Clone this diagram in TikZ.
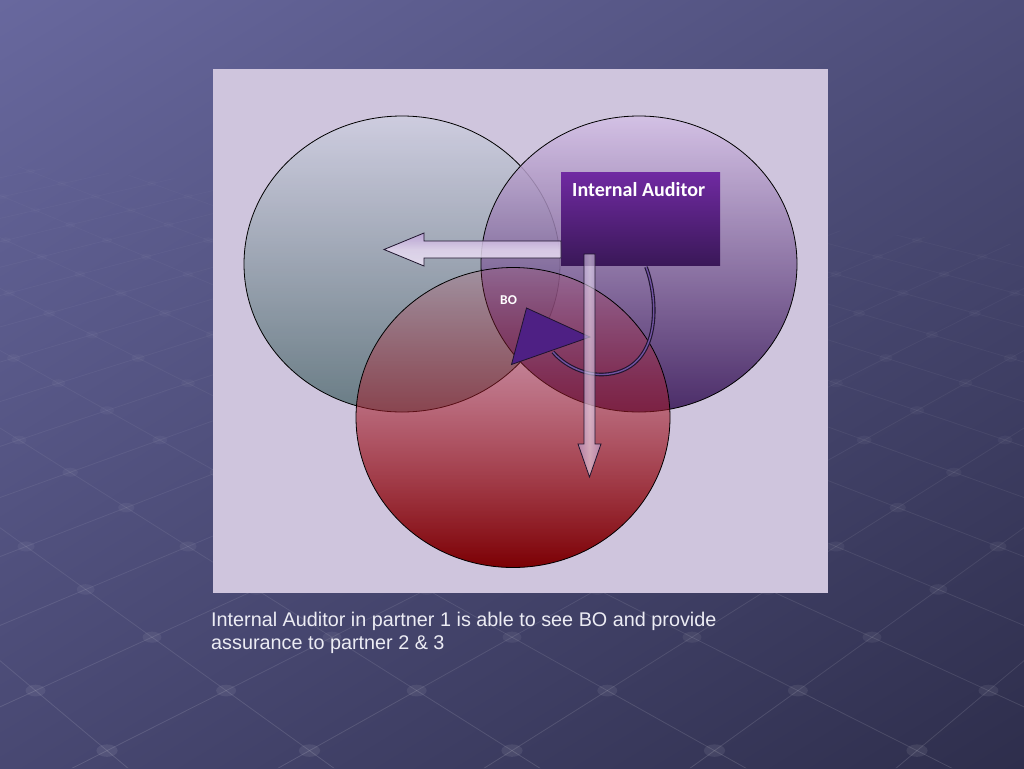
\documentclass[tikz,border=0pt]{standalone}
\usepackage{fontspec}
\usetikzlibrary{shadings,fadings}
\setmainfont{Liberation Sans}
\newfontfamily\carlito{Carlito}
\definecolor{bgUL}{RGB}{104,104,158}
\definecolor{bgUR}{RGB}{78,78,122}
\definecolor{bgLL}{RGB}{72,72,114}
\definecolor{bgLR}{RGB}{46,46,76}
\definecolor{panelc}{RGB}{207,197,221}
\definecolor{leftTop}{RGB}{206,206,224}
\definecolor{leftMid}{RGB}{172,182,200}
\definecolor{leftBot}{RGB}{88,112,118}
\definecolor{rightTop}{RGB}{212,192,230}
\definecolor{rightMid}{RGB}{145,100,172}
\definecolor{rightBot}{RGB}{52,18,84}
\definecolor{botTop}{RGB}{200,50,70}
\definecolor{botMid}{RGB}{228,58,62}
\definecolor{botBot}{RGB}{124,0,4}
\definecolor{iaTop}{RGB}{112,42,162}
\definecolor{iaBot}{RGB}{58,24,88}
\definecolor{arrowDark}{RGB}{186,160,212}
\definecolor{arrowLight}{RGB}{238,228,246}
\definecolor{triFill}{RGB}{78,32,132}
\definecolor{curveIn}{RGB}{112,82,160}
\definecolor{edge}{RGB}{30,20,45}
\definecolor{capt}{RGB}{236,236,244}
\tikzfading[name=redfade, top color=transparent!85, middle color=transparent!38, bottom color=transparent!0]
\tikzset{
  venn/.style={draw=black, line width=0.8pt, fill opacity=0.85},
  blockarrow/.style={draw=edge, line width=0.8pt, fill opacity=0.85},
}
\begin{document}
\begin{tikzpicture}[x=1pt,y=-1pt]
\useasboundingbox (0,0) rectangle (1024,768);
% background
\shade[upper left=bgUL, upper right=bgUR, lower left=bgLL, lower right=bgLR] (0,0) rectangle (1024,768);
% network texture (perspective lattice)
\begin{scope}
\clip (0,165) -- (1024,245) -- (1024,768) -- (0,768) -- cycle;
\foreach \u in {-5,...,21} {
  \foreach \v in {-5,...,21} {
    \pgfmathsetmacro{\ta}{1+0.1*(\u+\v)}
    \ifdim \ta pt > 1.3pt
      \pgfmathsetmacro{\tb}{1+0.1*(\u+\v+1)}
      \pgfmathsetmacro{\px}{512+162*(\u-\v)/\ta}
      \pgfmathsetmacro{\py}{-270+1633/\ta}
      \pgfmathsetmacro{\qx}{512+162*(\u+1-\v)/\tb}
      \pgfmathsetmacro{\qy}{-270+1633/\tb}
      \pgfmathsetmacro{\rx}{512+162*(\u-\v-1)/\tb}
      \pgfmathsetmacro{\rrx}{17/\ta}
      \pgfmathsetmacro{\rry}{10/\ta}
      \pgfmathsetmacro{\lop}{0.3/(\ta*\ta)}
      \pgfmathsetmacro{\dop}{0.2/(\ta*\ta)}
      \draw[white, opacity=\lop, line width=0.8pt] (\px,\py) -- (\qx,\qy);
      \draw[white, opacity=\lop, line width=0.8pt] (\px,\py) -- (\rx,\qy);
      \fill[white, opacity=\dop] (\px,\py) ellipse [x radius=\rrx, y radius=\rry];
    \fi
  }
}
\end{scope}
% panel
\node[fill=panelc, minimum width=615pt, minimum height=524pt, inner sep=0pt, anchor=north west] (panel) at (213,69) {};
% circles
\shadedraw[venn, top color=leftTop, middle color=leftMid, bottom color=leftBot] (402,264) ellipse [x radius=158, y radius=148];
\shadedraw[venn, top color=rightTop, middle color=rightMid, bottom color=rightBot] (639,264) ellipse [x radius=158, y radius=148];
\shade[top color=botTop, middle color=botMid, bottom color=botBot, path fading=redfade] (513,417.5) ellipse [x radius=157, y radius=150];
\draw[black, line width=0.8pt] (513,417.5) ellipse [x radius=157, y radius=150];
% internal auditor box
\node[rectangle, minimum width=159pt, minimum height=93pt, inner sep=0pt, top color=iaTop, bottom color=iaBot, anchor=north west] (ia) at (561,172) {};
\node[anchor=base west, text=white, font=\carlito\bfseries\fontsize{20}{24}\selectfont, inner sep=0pt] (iat) at (572,196.7) {Internal Auditor};
% left arrow
\shadedraw[blockarrow, top color=arrowDark, bottom color=arrowLight, middle color=arrowLight!80!arrowDark]
  (ia.west |- 0,241) -- (424,241) -- (424,233) -- (384,249.5) -- (424,266) -- (424,258) -- (ia.west |- 0,258) -- cycle;
% curved arrow tail
\draw[edge, line width=3.6pt] (646,267) .. controls (659,300) and (662,372) .. (603,374.5) .. controls (582,375) and (563,364) .. (553,352);
\draw[curveIn, line width=1.4pt] (646,267) .. controls (659,300) and (662,372) .. (603,374.5) .. controls (582,375) and (563,364) .. (553,352);
% triangle head
\filldraw[fill=triFill, draw=edge, line width=0.8pt] (526.5,308) -- (590,337) -- (511.5,364.5) -- cycle;
% down arrow
\shadedraw[blockarrow, fill opacity=0.6, left color=arrowDark, right color=arrowDark, middle color=arrowLight]
  (584,254) -- (595,254) -- (595,444) -- (601,444) -- (589.5,477) -- (578,444) -- (584,444) -- cycle;
% BO label
\node[anchor=base west, text=white, font=\carlito\bfseries\fontsize{13.5}{16}\selectfont, inner sep=0pt] (bo) at (500,304) {BO};
% caption
\node[anchor=base west, text=capt, font=\fontsize{19.8}{23}\selectfont, inner sep=0pt] (cap1) at (211,626) {Internal Auditor in partner 1 is able to see BO and provide};
\node[anchor=base west, text=capt, font=\fontsize{19.8}{23}\selectfont, inner sep=0pt] (cap2) at (211,649.3) {assurance to partner 2 \& 3};
\end{tikzpicture}
\end{document}
